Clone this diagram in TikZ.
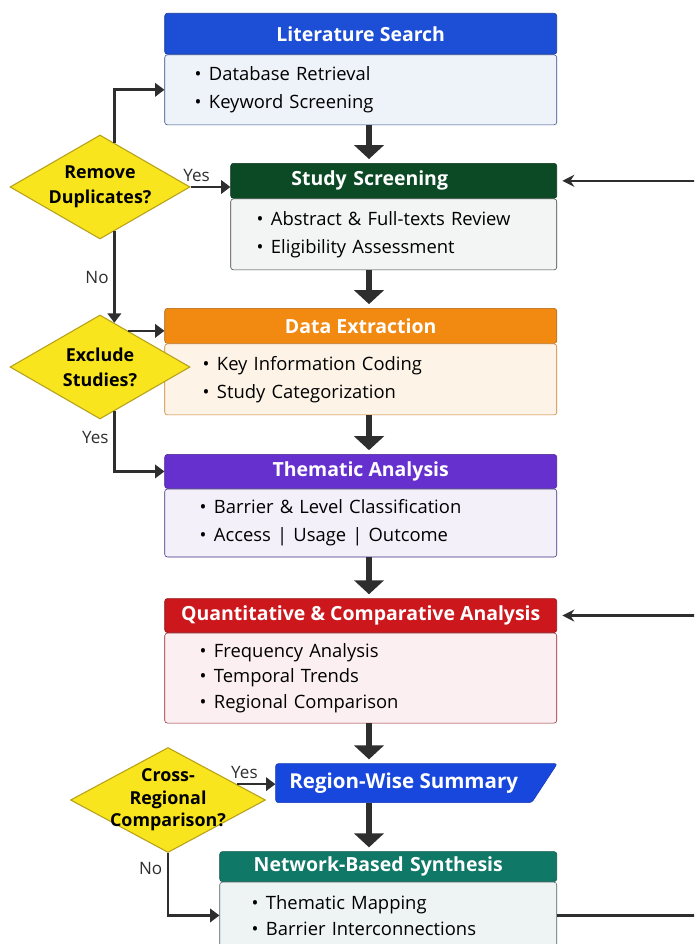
\documentclass[tikz,border=0pt]{standalone}
\usepackage{fontspec}
\setmainfont{Open Sans}
\usepackage{tikz}
\usetikzlibrary{arrows.meta,positioning,shapes.geometric}
\definecolor{flowInk}{HTML}{2E2E2E}
\definecolor{litBlue}{HTML}{1D4FD6}
\definecolor{litSoft}{HTML}{EEF3FA}
\definecolor{litEdge}{HTML}{2C4A86}
\definecolor{screenGreen}{HTML}{0C4A26}
\definecolor{screenSoft}{HTML}{F2F5F4}
\definecolor{screenEdge}{HTML}{3A3F3C}
\definecolor{extractOrange}{HTML}{F28A12}
\definecolor{extractSoft}{HTML}{FDF4E7}
\definecolor{extractEdge}{HTML}{C77A2A}
\definecolor{themePurple}{HTML}{6630CF}
\definecolor{themeSoft}{HTML}{F3F0FA}
\definecolor{themeEdge}{HTML}{3D2C7E}
\definecolor{quantRed}{HTML}{CC181C}
\definecolor{quantSoft}{HTML}{FCEFF1}
\definecolor{quantEdge}{HTML}{8E2026}
\definecolor{regionBlue}{HTML}{1747DD}
\definecolor{netTeal}{HTML}{0F7866}
\definecolor{netSoft}{HTML}{EEF4F4}
\definecolor{netEdge}{HTML}{4A6360}
\definecolor{askYellow}{HTML}{F8E51E}
\definecolor{askEdge}{HTML}{B8A018}
\newcommand{\flowitem}{\textbullet\hspace{5.5pt}}
\tikzset{
  headbar/.style={rectangle,draw=#1!70!black,fill=#1,rounded corners=2pt,
    inner sep=0pt,text=white,font=\bfseries\fontsize{14.6}{16}\selectfont},
  bodypanel/.style 2 args={rectangle,draw=#1,fill=#2,rounded corners=2pt,
    inner ysep=0pt,align=left,font=\fontsize{13.8}{20.8}\selectfont},
  regionbox/.style={trapezium,trapezium left angle=90,trapezium right angle=138,
    trapezium stretches=true,draw=regionBlue!80!black,fill=regionBlue,rounded corners=2pt,
    minimum width=211.5pt,minimum height=29.25pt,inner sep=0pt,text=white,
    font=\bfseries\fontsize{15.4}{17}\selectfont},
  query/.style={diamond,aspect=1.75,draw=askEdge,fill=askYellow,line width=0.8pt,inner sep=-12pt,
    align=center,font=\bfseries\fontsize{13.4}{18.8}\selectfont,
    minimum width=135pt,minimum height=78pt},
  flowarrow/.style={-{Triangle[length=10.5pt,width=22pt]},line width=3.8pt,draw=flowInk,shorten >=3pt},
  sidearrow/.style={-{Triangle[length=7pt,width=10pt]},line width=2pt,draw=flowInk},
  backarrow/.style={-{Stealth[length=9pt,width=9pt]},line width=1.8pt,draw=flowInk,shorten >=4pt},
  tag/.style={font=\fontsize{12.8}{14}\selectfont,text=flowInk}
}
\begin{document}
\begin{tikzpicture}[node distance=28.5pt]
  \useasboundingbox (0,0) rectangle (520.5pt,-708pt);
  \clip (0,0) rectangle (520.5pt,-708pt);
  \coordinate (axis) at (276.75pt,0);
  \coordinate (loop) at (540pt,0);
  \node[headbar=litBlue, minimum width=294pt, minimum height=30.75pt, anchor=north east] (litHead) at (417.75pt,-9.75pt) {Literature Search};
  \node[bodypanel={litEdge}{litSoft}, text width=249pt, inner xsep=22.5pt, minimum height=52.5pt, below=0pt of litHead.south east, anchor=north east] (litBody) {\flowitem Database Retrieval\\\flowitem Keyword Screening};
  \node[headbar=screenGreen, minimum width=244.5pt, minimum height=26.25pt, text width=244.5pt, align=center, below=of litBody.south east, anchor=north east] (studyHead) {\hspace*{-36pt}Study Screening};
  \node[bodypanel={screenEdge}{screenSoft}, text width=205.5pt, inner xsep=19.5pt, minimum height=53.25pt, below=0pt of studyHead.south east, anchor=north east] (studyBody) {\flowitem Abstract \& Full-texts Review\\\flowitem Eligibility Assessment};
  \node[headbar=extractOrange, minimum width=294pt, minimum height=26.25pt, below=of studyBody.south east, anchor=north east] (extractHead) {Data Extraction};
  \node[bodypanel={extractEdge}{extractSoft}, text width=237pt, inner xsep=28.5pt, minimum height=53.25pt, below=0pt of extractHead.south east, anchor=north east] (extractBody) {\flowitem Key Information Coding\\\flowitem Study Categorization};
  \node[headbar=themePurple, minimum width=294pt, minimum height=25.5pt, below=29.25pt of extractBody.south east, anchor=north east] (themHead) {Thematic Analysis};
  \node[bodypanel={themeEdge}{themeSoft}, text width=241.5pt, inner xsep=26.25pt, minimum height=51pt, below=0pt of themHead.south east, anchor=north east] (themBody) {\flowitem Barrier \& Level Classification\\\flowitem Access | Usage | Outcome};
  \node[headbar=quantRed, minimum width=294pt, minimum height=25.5pt, below=30.75pt of themBody.south east, anchor=north east] (quantHead) {Quantitative \& Comparative Analysis};
  \node[bodypanel={quantEdge}{quantSoft}, text width=241.5pt, inner xsep=26.25pt, minimum height=67.5pt, font=\fontsize{13.8}{19.2}\selectfont, below=0pt of quantHead.south east, anchor=north east] (quantBody) {\flowitem Frequency Analysis\\\flowitem Temporal Trends\\\flowitem Regional Comparison};
  \node[regionbox, below=30pt of quantBody, xshift=32.25pt] (region) {Region-Wise Summary};
  \node[headbar=netTeal, minimum width=252.75pt, minimum height=22.5pt, text width=252.75pt, align=center, below=96pt of quantBody.south east, anchor=north east] (netHead) {\hspace*{-15pt}Network-Based Synthesis};
  \node[bodypanel={netEdge}{netSoft}, text width=204.75pt, inner xsep=24pt, minimum height=50pt, font=\fontsize{13.8}{19}\selectfont, below=0pt of netHead.south east, anchor=north east] (netBody) {\flowitem Thematic Mapping\\\flowitem Barrier Interconnections};
  \node[query] (dup) at (75pt,-140.25pt) {Remove\\Duplicates?};
  \node[query] (exclude) at (75pt,-275.25pt) {Exclude\\Studies?};
  \node[query, aspect=1.85, minimum width=146.25pt, minimum height=78.75pt, font=\bfseries\fontsize{13.4}{17}\selectfont] (cross) at (126pt,-600pt) {Cross-\\Regional\\Comparison?};
  \draw[flowarrow] (litBody.south -| axis) -- (studyHead.north -| axis);
  \draw[flowarrow] (studyBody.south -| axis) -- (extractHead.north -| axis);
  \draw[flowarrow] (extractBody.south -| axis) -- (themHead.north -| axis);
  \draw[flowarrow] (themBody.south -| axis) -- (quantHead.north -| axis);
  \draw[flowarrow] (quantBody.south -| axis) -- (region.north -| axis);
  \draw[flowarrow] (region.south -| axis) -- (netHead.north -| axis);
  \draw[sidearrow] (dup.72) |- (litBody.west);
  \draw[sidearrow] (dup.east) -- node[tag, above, pos=0.15] {Yes} (dup.east -| studyHead.west);
  \draw[sidearrow] (dup.-72) -- node[tag, left, midway] {No} (exclude.72);
  \draw[sidearrow] (exclude.52) -- (exclude.52 -| extractHead.west);
  \draw[sidearrow] (exclude.-72) |- node[tag, left, pos=0.22] {Yes} (themHead.west);
  \draw[sidearrow] (cross.13) -- node[tag, above, pos=0.2] {Yes} (cross.13 -| region.west);
  \draw[sidearrow] (cross.south) |- node[tag, left, pos=0.12] {No} (netBody.west);
  \draw[backarrow] (netBody.east) -| (loop |- quantHead.east) -- (quantHead.east);
  \draw[backarrow] (loop |- quantHead.east) |- (studyHead.east);
\end{tikzpicture}
\end{document}
